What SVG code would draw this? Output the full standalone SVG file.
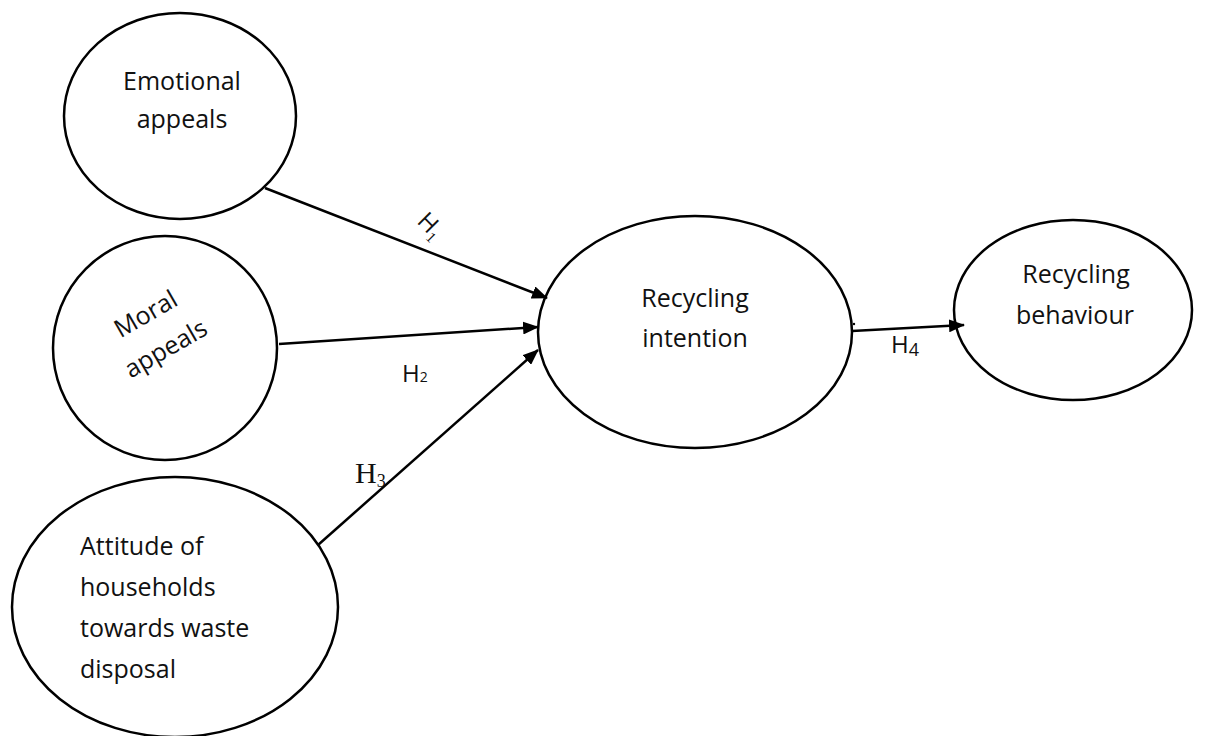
<svg xmlns="http://www.w3.org/2000/svg" width="1206" height="736" viewBox="0 0 1206 736">
<style>
.node{fill:#fff;stroke:#000;stroke-width:2.5}
.lbl{font-family:"Open Sans","Liberation Sans",sans-serif;font-size:25px;fill:#111}
.c{text-anchor:middle}
.edge{stroke:#000;stroke-width:2.5;fill:none;marker-end:url(#ah)}
.hs{font-family:"Open Sans","Liberation Sans",sans-serif;fill:#111}
.hr{font-family:"Liberation Serif","Times New Roman",serif;fill:#111}
</style>
<defs>
<marker id="ah" markerUnits="userSpaceOnUse" markerWidth="16" markerHeight="13" refX="15" refY="6.5" orient="auto">
<path d="M0,0 L16,6.5 L0,13 z" fill="#000"/>
</marker>
</defs>
<rect width="1206" height="736" fill="#fff"/>
<g id="emotional">
<ellipse class="node" cx="180" cy="116" rx="116" ry="103"/>
<text class="lbl c" x="182" y="90">Emotional</text>
<text class="lbl c" x="182" y="128">appeals</text>
</g>
<g id="moral">
<ellipse class="node" cx="165" cy="348" rx="112" ry="112"/>
<g transform="translate(159,337) rotate(-30)">
<text class="lbl c" x="0" y="-18">Moral</text>
<text class="lbl c" x="0" y="22">appeals</text>
</g>
</g>
<g id="attitude">
<ellipse class="node" cx="175" cy="607" rx="163" ry="130"/>
<text class="lbl" x="80" y="555">Attitude of</text>
<text class="lbl" x="80" y="596">households</text>
<text class="lbl" x="80" y="637">towards waste</text>
<text class="lbl" x="80" y="678">disposal</text>
</g>
<g id="intention">
<ellipse class="node" cx="695" cy="332" rx="157" ry="116"/>
<text class="lbl c" x="695" y="307">Recycling</text>
<text class="lbl c" x="695" y="347">intention</text>
</g>
<g id="behaviour">
<ellipse class="node" cx="1073" cy="310" rx="119" ry="90"/>
<text class="lbl c" x="1076" y="283">Recycling</text>
<text class="lbl c" x="1075" y="324">behaviour</text>
</g>
<g id="connectors">
<line class="edge" x1="265" y1="188" x2="547" y2="298"/>
<line class="edge" x1="279" y1="344" x2="538" y2="327"/>
<line class="edge" x1="318" y1="545" x2="538" y2="350"/>
<line class="edge" x1="852" y1="331" x2="964" y2="325"/>
<circle cx="854" cy="324" r="1.2" fill="#000"/>
<g transform="translate(428,223) rotate(45)">
<text class="hs" x="-9" y="8" font-size="24">H<tspan class="hr" font-size="15" dy="5">1</tspan></text>
</g>
<text class="hs" x="402" y="382" font-size="24">H<tspan font-size="14" dy="0">2</tspan></text>
<text class="hr" x="355" y="483" font-size="30">H<tspan font-size="18" dy="4">3</tspan></text>
<text class="hs" x="891" y="353" font-size="24">H<tspan font-size="18" dy="3">4</tspan></text>
</g>
</svg>
